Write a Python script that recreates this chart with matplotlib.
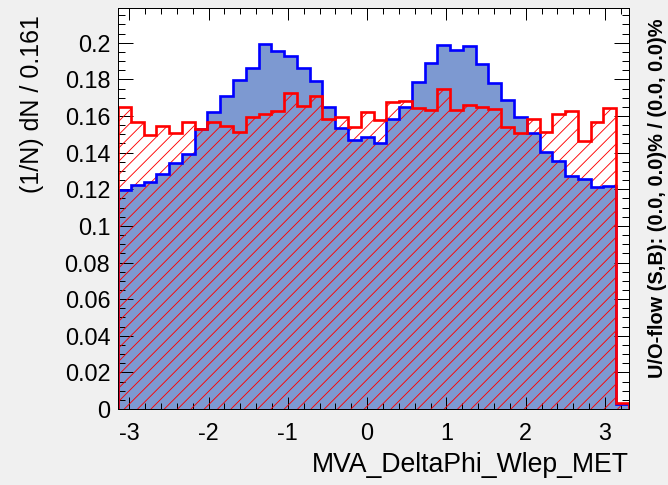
import numpy as np
import matplotlib
matplotlib.use('Agg')
import matplotlib.pyplot as plt
from matplotlib.ticker import MultipleLocator

plt.rcParams['font.family'] = ['Liberation Sans', 'DejaVu Sans']
plt.rcParams['hatch.color'] = '#ff0000'
plt.rcParams['hatch.linewidth'] = 0.8

# binning: 40 bins of width 0.161
X_MIN = -3.1416
X_MAX = 3.3028
N_BINS = 40

# signal (blue, filled)
signal = [0.1197, 0.1224, 0.1242, 0.1284, 0.1346, 0.1395, 0.1528, 0.1620, 0.1707, 0.1798,
          0.1865, 0.1995, 0.1956, 0.1929, 0.1862, 0.1792, 0.1652, 0.1537, 0.1470, 0.1485,
          0.1455, 0.1583, 0.1652, 0.1785, 0.1889, 0.1987, 0.1962, 0.1984, 0.1885, 0.1780,
          0.1689, 0.1592, 0.1507, 0.1401, 0.1357, 0.1273, 0.1255, 0.1215, 0.1220, 0.0025]

# background (red, hatched)
background = [0.1649, 0.1565, 0.1496, 0.1543, 0.1510, 0.1565, 0.1528, 0.1565, 0.1543, 0.1515,
              0.1594, 0.1612, 0.1630, 0.1725, 0.1656, 0.1707, 0.1583, 0.1594, 0.1539, 0.1620,
              0.1579, 0.1674, 0.1680, 0.1643, 0.1634, 0.1749, 0.1634, 0.1660, 0.1649, 0.1638,
              0.1539, 0.1510, 0.1583, 0.1515, 0.1612, 0.1630, 0.1464, 0.1570, 0.1646, 0.0033]

XLABEL = 'MVA_DeltaPhi_Wlep_MET'
YLABEL = '(1/N) dN / 0.161'
OVERFLOW = 'U/O-flow (S,B): (0.0, 0.0)% / (0.0, 0.0)%'

edges = np.linspace(X_MIN, X_MAX, N_BINS + 1)

DPI = 80
fig = plt.figure(figsize=(668 / DPI, 485 / DPI), dpi=DPI, facecolor='#f0f0f0')
ax = fig.add_axes([118 / 668, 76 / 485, 511 / 668, 401 / 485])
ax.set_facecolor('white')

ax.stairs(signal, edges, fill=True, color='#7d99d1', linewidth=0, zorder=1)
ax.stairs(background, edges, fill=True, facecolor='none', edgecolor='#ff0000',
          hatch='//', linewidth=0, zorder=2)
ax.stairs(signal, edges, color='#0000ff', linewidth=2.4, zorder=3)
ax.stairs(background, edges, color='#ff0000', linewidth=2.4, zorder=4)

ax.set_xlim(X_MIN, X_MAX)
ax.set_ylim(0, 0.219)

ax.xaxis.set_major_locator(MultipleLocator(1))
ax.xaxis.set_minor_locator(MultipleLocator(0.2))
ax.yaxis.set_major_locator(MultipleLocator(0.02))
ax.yaxis.set_minor_locator(MultipleLocator(0.005))
ax.yaxis.set_major_formatter(plt.FuncFormatter(lambda v, p: f'{v:g}'))
ax.xaxis.set_major_formatter(plt.FuncFormatter(lambda v, p: f'{v:g}'))

ax.tick_params(axis='both', which='both', direction='in', top=True, right=True,
               width=0.9, labelsize=21)
ax.tick_params(axis='x', which='major', length=10.8, pad=12)
ax.tick_params(axis='x', which='minor', length=5.4)
ax.tick_params(axis='y', which='major', length=13.5, pad=7)
ax.tick_params(axis='y', which='minor', length=6.5)
for sp in ax.spines.values():
    sp.set_linewidth(0.9)
    sp.set_zorder(5)

ax.set_xlabel(XLABEL, fontsize=24, loc='right')
ax.xaxis.set_label_coords(1.0, -0.157)
ax.xaxis.label.set_va('baseline')

ax.set_ylabel(YLABEL, fontsize=22.5, loc='top')
ax.yaxis.set_label_coords(-0.1546, 0.9825)
ax.yaxis.label.set_va('baseline')

fig.text(663 / 668, (485 - 378) / 485, OVERFLOW, rotation=90, rotation_mode='anchor',
         ha='left', va='baseline', fontsize=18, fontweight='bold')

fig.savefig('out.png', dpi=DPI, facecolor=fig.get_facecolor())
